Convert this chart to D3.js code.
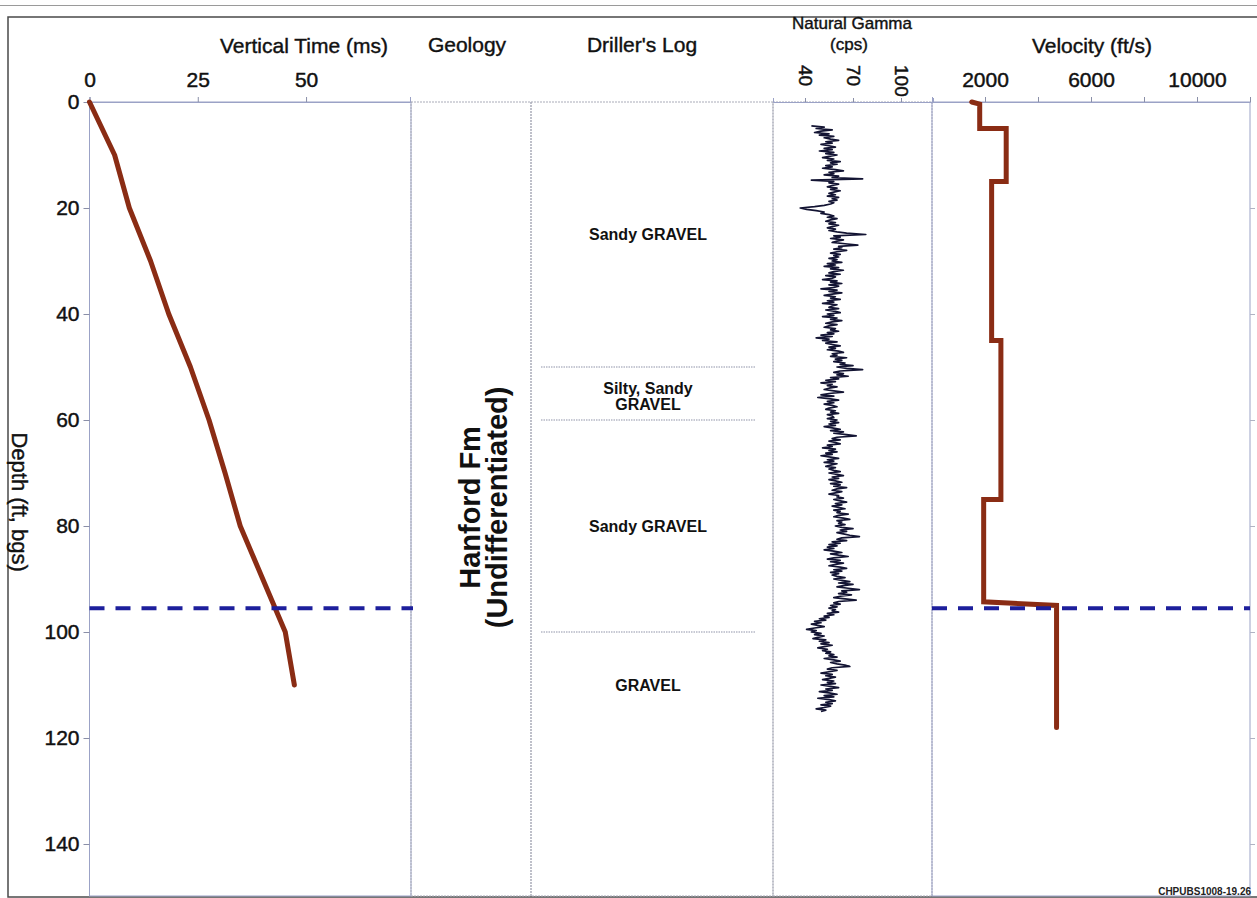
<!DOCTYPE html>
<html>
<head>
<meta charset="utf-8">
<script src="https://cdn.jsdelivr.net/npm/d3@7"></script>
<style>
  html, body { margin: 0; padding: 0; background: #fff; }
  svg { display: block; font-family: "Liberation Sans", Arial, sans-serif; }
</style>
</head>
<body>
<svg id="chart" width="1257" height="898"></svg>
<script>
// ---- Borehole data ----
// Vertical travel time (ms) against depth (ft bgs)
const timeDepths = [0, 10, 20, 30, 40, 50, 60, 70, 80, 90, 100, 110];
const timeValues = [0, 5.8, 9.2, 14.1, 18.3, 23.3, 27.6, 31.3, 34.8, 40.0, 45.2, 47.3];

// Interval velocity (ft/s), drawn as a step profile
const velDepths = [0, 0.4, 5, 5, 15, 15, 45, 45, 75, 75, 94.3, 95, 118];
const velValues = [1500, 1800, 1800, 2800, 2800, 2250, 2250, 2600, 2600, 1950, 1950, 4700, 4700];

// Natural gamma log (cps), sampled every 0.25 ft from 4.5 ft
const gammaStart = 4.5;
const gammaStep = 0.25;
const gammaValues = [
  44, 52, 47, 57, 50, 46, 55, 49, 58, 52, 56, 61, 53, 57, 50, 55, 59, 52, 57, 49,
  58, 53, 60, 55, 51, 58, 54, 62, 56, 60, 53, 57, 51, 59, 64, 55, 58, 52, 61, 57,
  76, 44, 58, 55, 61, 57, 54, 60, 56, 62, 58, 55, 59, 54, 61, 57, 60, 55, 58, 56,
  52, 46, 37, 41, 47, 52, 50, 55, 58, 54, 60, 56, 53, 59, 55, 61, 57, 54, 59, 55,
  60, 66, 78, 58, 62, 56, 64, 60, 57, 65, 73, 61, 63, 58, 66, 60, 56, 62, 58, 61,
  55, 60, 57, 63, 54, 59, 52, 61, 56, 64, 58, 55, 62, 53, 59, 57, 51, 60, 56, 63,
  55, 61, 58, 50, 60, 55, 63, 57, 52, 59, 56, 62, 54, 58, 51, 60, 57, 55, 61, 53,
  59, 62, 54, 58, 51, 60, 56, 63, 57, 53, 60, 55, 52, 59, 56, 61, 54, 58, 50, 57,
  47, 55, 51, 60, 53, 57, 62, 55, 59, 54, 61, 64, 57, 60, 56, 66, 59, 63, 58, 65,
  62, 70, 60, 66, 76, 62, 58, 64, 60, 67, 56, 61, 53, 59, 50, 57, 54, 60, 55, 52,
  58, 64, 55, 50, 58, 48, 56, 61, 54, 58, 52, 57, 60, 55, 53, 59, 56, 61, 54, 57,
  58, 54, 60, 56, 61, 55, 59, 52, 57, 62, 56, 64, 58, 66, 72, 60, 57, 62, 55, 59,
  62, 54, 57, 51, 59, 55, 60, 53, 57, 50, 56, 61, 54, 58, 52, 60, 56, 53, 59, 55,
  58, 62, 55, 60, 64, 57, 61, 55, 59, 63, 56, 62, 58, 66, 60, 57, 63, 59, 55, 61,
  60, 64, 58, 62, 66, 59, 63, 57, 61, 65, 58, 62, 60, 67, 61, 58, 64, 68, 60, 63,
  61, 65, 59, 63, 70, 62, 66, 60, 64, 68, 74, 63, 60, 66, 57, 62, 55, 60, 54, 58,
  52, 58, 63, 56, 61, 67, 58, 54, 62, 56, 64, 59, 55, 62, 66, 58, 63, 56, 61, 57,
  60, 65, 58, 63, 68, 61, 70, 64, 60, 67, 74, 63, 66, 61, 69, 62, 58, 65, 72, 61,
  58, 62, 56, 60, 55, 59, 57, 61, 54, 58, 52, 55, 49, 53, 46, 50, 44, 48, 52, 46,
  41, 47, 44, 50, 46, 52, 48, 45, 53, 49, 55, 50, 57, 52, 48, 54, 51, 56, 53, 58,
  55, 60, 52, 58, 62, 56, 60, 65, 68, 57, 54, 60, 55, 50, 57, 53, 59, 55, 51, 58,
  54, 59, 50, 56, 61, 53, 57, 49, 55, 60, 52, 58, 48, 55, 59, 53, 57, 50, 56, 52,
  47, 53, 50
];

// Driller's log intervals
const drillTops = [0, 50, 60, 100];
const drillBases = [50, 60, 100, 120];
const drillLabels = [["Sandy GRAVEL"], ["Silty, Sandy", "GRAVEL"], ["Sandy GRAVEL"], ["GRAVEL"]];

// Geologic unit
const geoLabel = ["Hanford Fm", "(Undifferentiated)"];
const geoLabelDepth = 76.5;

// Marker depth (dashed line)
const markerDepth = 95.5;

// Axis ticks
const depthTicks = [0, 20, 40, 60, 80, 100, 120, 140];
const timeTicks = [0, 25, 50];
const gammaTicks = [40, 70, 100];
const velTicks = [2000, 4000, 6000, 8000, 10000, 12000];
const velTickLabels = [2000, 6000, 10000];

// ---- Layout ----
const svg = d3.select("#chart");
const plotTop = 102, plotBottom = 897;
const panels = {
  time:   [89.5, 411],
  geo:    [411, 531],
  drill:  [531, 773],
  gamma:  [773, 932],
  vel:    [932, 1250]
};

const y = d3.scaleLinear().domain([0, 150]).range([plotTop, plotBottom]);
const xTime = d3.scaleLinear().domain([0, 74]).range([89.5, 410]);
const xGamma = d3.scaleLinear().domain([20, 120]).range([773, 933]);
const xVel = d3.scaleLinear().domain([0, 12000]).range([932, 1250]);

const brown = "#8a2c14";
const navy = "#1d1f9c";
const frameBlue = "#9ba2c6";
const ink = "#111";

// faint rule at the very top
svg.append("line").attr("x1", 0).attr("x2", 1257).attr("y1", 5.5).attr("y2", 5.5)
  .attr("stroke", "#9a9a9a").attr("stroke-width", 1);

// outer frame
svg.append("rect").attr("x", 8).attr("y", 17).attr("width", 1260).attr("height", 880)
  .attr("fill", "none").attr("stroke", "#4a4a4a").attr("stroke-width", 1.5);

// panel frames
const frameG = svg.append("g");
Object.entries(panels).forEach(([k, [x0, x1]]) => {
  const solid = (k === "time" || k === "vel");
  frameG.append("rect")
    .attr("x", x0).attr("y", plotTop).attr("width", x1 - x0).attr("height", plotBottom - plotTop - 1)
    .attr("fill", "none")
    .attr("stroke", solid ? frameBlue : "#a9abb8")
    .attr("stroke-width", 1)
    .attr("stroke-dasharray", solid ? null : "2 1");
});

// ---- Axes ----
function styleAxis(g) {
  g.selectAll(".domain").attr("stroke", frameBlue);
  g.selectAll(".tick line").attr("stroke", "#8a8fa8");
  g.selectAll(".tick text").attr("fill", ink).attr("font-size", 21)
    .attr("stroke", ink).attr("stroke-width", 0.45);
}

// depth axis
const yAxisG = svg.append("g").attr("transform", "translate(89.5,0)")
  .call(d3.axisLeft(y).tickValues(depthTicks).tickSize(6).tickPadding(4).tickFormat(d3.format("d")));
styleAxis(yAxisG);
yAxisG.select(".domain").remove();

// right-hand depth ticks on velocity panel
const yRightG = svg.append("g").attr("transform", "translate(1250,0)")
  .call(d3.axisRight(y).tickValues(depthTicks.slice(1)).tickSize(5).tickFormat(""));
yRightG.select(".domain").remove();
yRightG.selectAll(".tick line").attr("stroke", "#b0b3c4");

// time axis
const tAxisG = svg.append("g").attr("transform", `translate(0,${plotTop})`)
  .call(d3.axisTop(xTime).tickValues(timeTicks).tickSize(5).tickPadding(10).tickFormat(d3.format("d")));
styleAxis(tAxisG);

// gamma axis (rotated labels)
const gAxisG = svg.append("g").attr("transform", `translate(0,${plotTop})`)
  .call(d3.axisTop(xGamma).tickValues(gammaTicks).tickSize(4).tickFormat(d3.format("d")));
styleAxis(gAxisG);
gAxisG.selectAll(".tick text")
  .attr("font-size", 19)
  .attr("text-anchor", "start")
  .attr("y", 0).attr("dy", "0.36em")
  .attr("transform", "translate(0,-37) rotate(90)");

// velocity axis
const vAxisG = svg.append("g").attr("transform", `translate(0,${plotTop})`)
  .call(d3.axisTop(xVel).tickValues(velTicks).tickSize(5).tickPadding(10)
    .tickFormat(d => velTickLabels.includes(d) ? d3.format("d")(d) : ""));
styleAxis(vAxisG);

// ---- Titles ----
function label(txt, x, yy, size) {
  return svg.append("text").attr("x", x).attr("y", yy)
    .attr("text-anchor", "middle").attr("font-size", size)
    .attr("fill", ink).attr("stroke", ink).attr("stroke-width", 0.4).text(txt);
}
label("Vertical Time (ms)", 304, 53, 21);
label("Geology", 467, 52, 21);
label("Driller's Log", 642, 52, 21);
label("Natural Gamma", 852, 29, 17);
label("(cps)", 849, 50, 17);
label("Velocity (ft/s)", 1092, 53, 21);

// depth axis title
svg.append("text")
  .attr("transform", `translate(12,${y(75.5)}) rotate(90)`)
  .attr("text-anchor", "middle").attr("font-size", 22)
  .attr("fill", ink).attr("stroke", ink).attr("stroke-width", 0.4)
  .text("Depth (ft, bgs)");

// figure id
svg.append("text").attr("x", 1251).attr("y", 895).attr("text-anchor", "end")
  .attr("font-size", 10).attr("font-weight", "bold").attr("fill", "#222")
  .text("CHPUBS1008-19.26");

// ---- Geology column ----
const geoX = d3.mean(panels.geo);
const geoText = svg.append("text")
  .attr("transform", `translate(${geoX},${y(geoLabelDepth)}) rotate(-90)`)
  .attr("text-anchor", "middle").attr("font-size", 29).attr("font-weight", "bold").attr("fill", ink);
geoLabel.forEach((t, i) => {
  geoText.append("tspan").attr("x", 0).attr("dy", i === 0 ? "0.32em" : "0.93em").text(t);
});

// ---- Driller's log column ----
const drillX = 648;
drillTops.forEach((t, i) => {
  if (i > 0) {
    svg.append("line")
      .attr("x1", 541).attr("x2", 755).attr("y1", y(t)).attr("y2", y(t))
      .attr("stroke", "#8f93a8").attr("stroke-width", 1).attr("stroke-dasharray", "1.5 1");
  }
  const mid = (t + drillBases[i]) / 2;
  const lines = drillLabels[i];
  const txt = svg.append("text")
    .attr("x", drillX).attr("y", y(mid))
    .attr("text-anchor", "middle").attr("font-size", 16).attr("font-weight", "bold").attr("fill", ink);
  lines.forEach((l, j) => {
    txt.append("tspan").attr("x", drillX)
      .attr("dy", j === 0 ? (lines.length > 1 ? "0em" : "0.35em") : "1.06em")
      .text(l);
  });
});

// ---- Vertical time curve ----
const timeData = timeDepths.map((d, i) => ({ d, v: timeValues[i] }));
svg.append("path").datum(timeData)
  .attr("fill", "none").attr("stroke", brown).attr("stroke-width", 5)
  .attr("stroke-linecap", "round").attr("stroke-linejoin", "round")
  .attr("d", d3.line().x(p => xTime(p.v)).y(p => y(p.d)));

// ---- Gamma trace ----
const gammaData = gammaValues.map((v, i) => ({ d: gammaStart + i * gammaStep, v }));
svg.append("path").datum(gammaData)
  .attr("fill", "none").attr("stroke", "#131433").attr("stroke-width", 1.7)
  .attr("stroke-linejoin", "round")
  .attr("d", d3.line().x(p => xGamma(p.v)).y(p => y(p.d)));

// ---- Velocity profile ----
const velData = velDepths.map((d, i) => ({ d, v: velValues[i] }));
svg.append("path").datum(velData)
  .attr("fill", "none").attr("stroke", brown).attr("stroke-width", 5)
  .attr("stroke-linecap", "round").attr("stroke-linejoin", "miter")
  .attr("d", d3.line().x(p => xVel(p.v)).y(p => y(p.d)));

// ---- Dashed marker lines ----
[[xTime.range()[0], panels.time[1] + 2], [panels.vel[0], panels.vel[1]]].forEach(([x1, x2]) => {
  svg.append("line")
    .attr("x1", x1).attr("x2", x2).attr("y1", y(markerDepth)).attr("y2", y(markerDepth))
    .attr("stroke", navy).attr("stroke-width", 4).attr("stroke-dasharray", "15 11");
});
</script>
</body>
</html>
